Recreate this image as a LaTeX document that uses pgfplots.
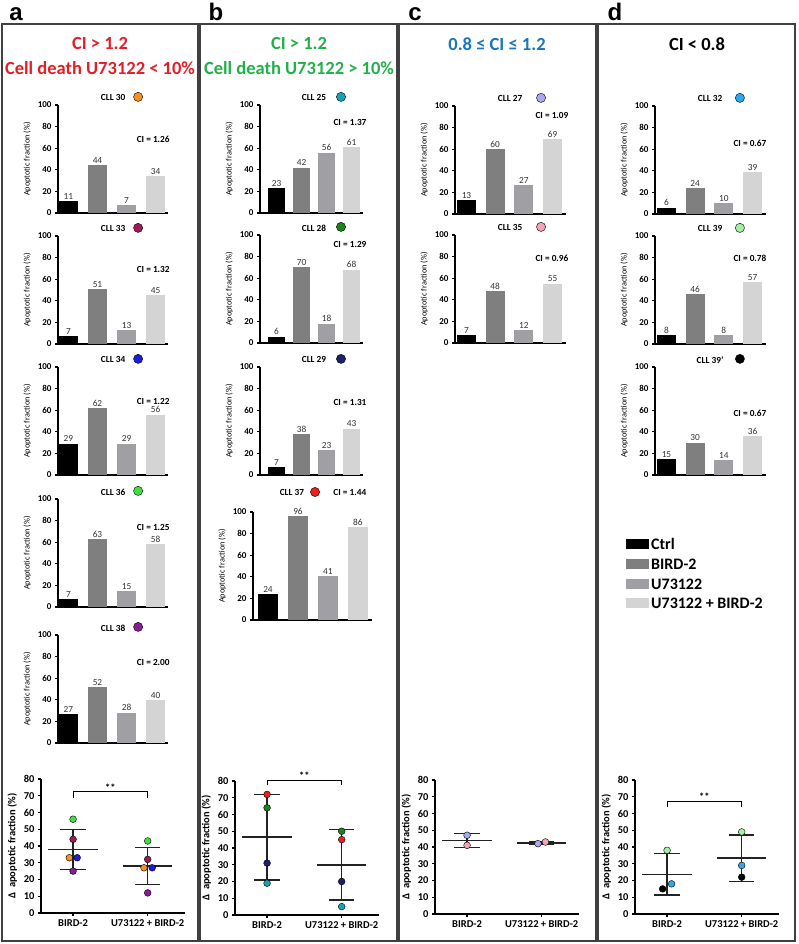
\documentclass[border=0pt]{standalone}
\usepackage{pgfplots}
\pgfplotsset{compat=1.18}
\usepackage{fontspec}
\setmainfont{Carlito}
\newfontfamily\letterfont{Liberation Sans}

\definecolor{cCtrl}{HTML}{000000}
\definecolor{cBird}{HTML}{7F7F7F}
\definecolor{cU}{HTML}{A0A0A4}
\definecolor{cUB}{HTML}{D4D4D4}
\definecolor{tRed}{HTML}{E41E26}
\definecolor{tGreen}{HTML}{22B04B}
\definecolor{tBlue}{HTML}{1C75BC}
\definecolor{frame}{HTML}{404040}
\definecolor{vlab}{HTML}{333333}
\definecolor{sdc}{HTML}{222222}
% one colour per patient
\definecolor{p30}{HTML}{F7901E}
\definecolor{p33}{HTML}{A0175A}
\definecolor{p34}{HTML}{1A1AE0}
\definecolor{p36}{HTML}{3DE03D}
\definecolor{p38}{HTML}{8A1A9C}
\definecolor{p25}{HTML}{1AA0B8}
\definecolor{p28}{HTML}{1A841A}
\definecolor{p29}{HTML}{1A1F6E}
\definecolor{p37}{HTML}{EE1C1C}
\definecolor{p27}{HTML}{A8A8F5}
\definecolor{p35}{HTML}{F5A3B5}
\definecolor{p32}{HTML}{2AA8EE}
\definecolor{p39}{HTML}{A5EFA5}
\definecolor{p39b}{HTML}{000000}

\newcommand\fTick{\fontsize{9}{10}\selectfont\bfseries}
\newcommand\fYlab{\fontsize{8.3}{9}\selectfont}
\newcommand\fVal{\fontsize{9.3}{10}\selectfont}
\newcommand\fCLL{\fontsize{9.3}{10}\selectfont\bfseries}
\newcommand\fS{\fontsize{10.5}{12}\selectfont\bfseries}

\pgfplotsset{
  base/.style={scale only axis, anchor=south west, axis lines*=left, clip=false,
    axis line style={line width=1.2pt, black},
    tick style={line width=1.2pt, black},
    tick align=outside, major tick length=3pt,
    /pgf/number format/assume math mode=true},
  bchart/.style={base, height=108pt, ymin=0, ymax=100, ytick={0,20,...,100}, xtick=\empty,
    tick label style={font=\fTick},
    ylabel={Apoptotic fraction (\%)}, ylabel style={font=\fYlab}},
  pa/.style={bchart, width=110pt, xmin=-0.36, xmax=3.43, bar width=19pt},
  pb/.style={bchart, width=103pt, xmin=-0.66, xmax=3.46, bar width=17pt},
  pcd/.style={bchart, width=111pt, xmin=-0.4, xmax=3.47, bar width=19pt},
  barst/.style={ybar, bar shift=0pt, draw=none, nodes near coords,
    every node near coord/.append style={font=\fVal, text=vlab, inner sep=1.5pt}},
  schart/.style={base, width=144pt, height=134pt, xmin=-0.43, xmax=1.5,
    ymin=0, ymax=80, ytick={0,10,...,80}, xtick={0,1},
    xticklabels={{BIRD-2},{U73122 + BIRD-2}},
    tick label style={font=\fS},
    ylabel={Δ\ \ apoptotic fraction (\%)}, ylabel style={font=\fS}},
  sdline/.style={line width=1.5pt, sdc},
}

\newcommand\fourbars[4]{%
  \addplot[barst, fill=cCtrl] coordinates {(0,#1)};
  \addplot[barst, fill=cBird] coordinates {(1,#2)};
  \addplot[barst, fill=cU] coordinates {(2,#3)};
  \addplot[barst, fill=cUB] coordinates {(3,#4)};}
\newcommand\pdot[3]{\addplot[only marks, mark=*, mark size=4.6pt, mark options={draw=none, fill=#3}] coordinates {(#1,#2)};}
\newcommand\sdot[3]{\addplot[only marks, mark=*, mark size=3.4pt, mark options={draw=none, fill=#3}] coordinates {(#1,#2)};}
% mean line, caps and bar: xl xr capl capr xc mean lo hi
\newcommand\msd[8]{%
  \addplot[sdline] coordinates {(#1,#6) (#2,#6)};
  \addplot[sdline] coordinates {(#3,#7) (#4,#7)};
  \addplot[sdline] coordinates {(#3,#8) (#4,#8)};
  \addplot[sdline] coordinates {(#5,#7) (#5,#8)};}

\begin{document}
\begin{tikzpicture}[x=1pt, y=1pt]
\path[use as bounding box] (0,0) rectangle (798,944);

% panel frames
\draw[frame, line width=1.3pt] (2,3) rectangle (198,920);
\draw[frame, line width=1.3pt] (200,3) rectangle (397,920);
\draw[frame, line width=1.3pt] (399,3) rectangle (596,920);
\draw[frame, line width=1.3pt] (598,3) rectangle (795,920);

% panel letters
\foreach \lx/\lt in {16/a, 216/b, 415/c, 615/d}
  \node[font=\letterfont\fontsize{24}{25}\selectfont\bfseries, anchor=base] at (\lx,923) {\lt};

% titles
\node[font=\fontsize{18.5}{20}\selectfont\bfseries, text=tRed] at (100,900) {CI > 1.2};
\node[font=\fontsize{18.5}{20}\selectfont\bfseries, text=tRed] at (100,876) {Cell death U73122 < 10\%};
\node[font=\fontsize{18.5}{20}\selectfont\bfseries, text=tGreen] at (299,900) {CI > 1.2};
\node[font=\fontsize{18.5}{20}\selectfont\bfseries, text=tGreen] at (299,876) {Cell death U73122 > 10\%};
\node[font=\fontsize{18.5}{20}\selectfont\bfseries, text=tBlue] at (497,900) {0.8 ≤ CI ≤ 1.2};
\node[font=\fontsize{18.5}{20}\selectfont\bfseries] at (697,900) {CI < 0.8};

% ---------------- panel a ----------------
\begin{axis}[pa, at={(58pt,731pt)}]
\fourbars{11}{44}{7}{34}
\pdot{2.40}{107.5}{p30}
\node[font=\fCLL] at (axis cs:1.54,106.5) {CLL 30};
\node[font=\fCLL] at (axis cs:2.92,68.5) {CI = 1.26};
\end{axis}
\begin{axis}[pa, at={(58pt,600pt)}]
\fourbars{7}{51}{13}{45}
\pdot{2.40}{107.5}{p33}
\node[font=\fCLL] at (axis cs:1.54,106.5) {CLL 33};
\node[font=\fCLL] at (axis cs:2.92,69) {CI = 1.32};
\end{axis}
\begin{axis}[pa, at={(58pt,469pt)}]
\fourbars{29}{62}{29}{56}
\pdot{2.40}{107.5}{p34}
\node[font=\fCLL] at (axis cs:1.54,106.5) {CLL 34};
\node[font=\fCLL] at (axis cs:2.92,68.5) {CI = 1.22};
\end{axis}
\begin{axis}[pa, at={(58pt,337pt)}]
\fourbars{7}{63}{15}{58}
\pdot{2.40}{107.5}{p36}
\node[font=\fCLL] at (axis cs:1.54,106.5) {CLL 36};
\node[font=\fCLL] at (axis cs:2.92,73.5) {CI = 1.25};
\end{axis}
\begin{axis}[pa, at={(58pt,201pt)}]
\fourbars{27}{52}{28}{40}
\pdot{2.40}{107.5}{p38}
\node[font=\fCLL] at (axis cs:1.54,106.5) {CLL 38};
\node[font=\fCLL] at (axis cs:2.92,75) {CI = 2.00};
\end{axis}

% ---------------- panel b ----------------
\begin{axis}[pb, at={(260pt,731pt)}]
\fourbars{23}{42}{56}{61}
\pdot{2.58}{107.5}{p25}
\node[font=\fCLL] at (axis cs:1.5,106.5) {CLL 25};
\node[font=\fCLL] at (axis cs:2.94,84) {CI = 1.37};
\end{axis}
\begin{axis}[pb, at={(260pt,601pt)}]
\fourbars{6}{70}{18}{68}
\pdot{2.58}{107.5}{p28}
\node[font=\fCLL] at (axis cs:1.5,106.5) {CLL 28};
\node[font=\fCLL] at (axis cs:2.94,91) {CI = 1.29};
\end{axis}
\begin{axis}[pb, at={(260pt,469pt)}]
\fourbars{7}{38}{23}{43}
\pdot{2.58}{107.5}{p29}
\node[font=\fCLL] at (axis cs:1.5,106.5) {CLL 29};
\node[font=\fCLL] at (axis cs:2.94,67.5) {CI = 1.31};
\end{axis}
\begin{axis}[bchart, width=119pt, xmin=-0.5, xmax=3.47, bar width=20pt, at={(253pt,324pt)}]
\fourbars{24}{96}{41}{86}
\pdot{1.57}{118.5}{p37}
\node[font=\fCLL] at (axis cs:0.8,118) {CLL 37};
\node[font=\fCLL] at (axis cs:2.73,118) {CI = 1.44};
\end{axis}

% ---------------- panel c ----------------
\begin{axis}[pcd, at={(455pt,730pt)}]
\fourbars{13}{60}{27}{69}
\pdot{2.6}{107.5}{p27}
\node[font=\fCLL] at (axis cs:1.52,106.5) {CLL 27};
\node[font=\fCLL] at (axis cs:2.98,91) {CI = 1.09};
\end{axis}
\begin{axis}[pcd, at={(455pt,601pt)}]
\fourbars{7}{48}{12}{55}
\pdot{2.6}{107.5}{p35}
\node[font=\fCLL] at (axis cs:1.52,106.5) {CLL 35};
\node[font=\fCLL] at (axis cs:2.98,78) {CI = 0.96};
\end{axis}

% ---------------- panel d ----------------
\begin{axis}[pcd, at={(655pt,730pt)}]
\fourbars{6}{24}{10}{39}
\pdot{2.56}{107.5}{p32}
\node[font=\fCLL] at (axis cs:1.52,106.5) {CLL 32};
\node[font=\fCLL] at (axis cs:2.91,65) {CI = 0.67};
\end{axis}
\begin{axis}[pcd, at={(655pt,600pt)}]
\fourbars{8}{46}{8}{57}
\pdot{2.56}{107.5}{p39}
\node[font=\fCLL] at (axis cs:1.52,106.5) {CLL 39};
\node[font=\fCLL] at (axis cs:2.91,79) {CI = 0.78};
\end{axis}
\begin{axis}[pcd, at={(655pt,469pt)}]
\fourbars{15}{30}{14}{36}
\pdot{2.56}{107.5}{p39b}
\node[font=\fCLL] at (axis cs:1.52,106.5) {CLL 39'};
\node[font=\fCLL] at (axis cs:2.91,57) {CI = 0.67};
\end{axis}

% legend
\foreach \ly/\lc/\lt in {400/cCtrl/Ctrl, 380/cBird/BIRD-2, 360/cU/U73122, 341/cUB/U73122 + BIRD-2}{
  \fill[\lc] (626,\ly-5) rectangle (649,\ly+5);
  \node[font=\fontsize{16}{17}\selectfont\bfseries, anchor=west, inner sep=1pt] at (650,\ly) {\lt};
}

% ---------------- scatter plots ----------------
\begin{axis}[schart, at={(41pt,31pt)}]
\msd{-0.33}{0.33}{-0.17}{0.17}{0}{38}{26}{50}
\msd{0.67}{1.33}{0.83}{1.17}{1}{28}{17}{39}
\addplot[line width=0.9pt, black] coordinates {(0,68.7) (0,72.4) (1,72.4) (1,68.7)};
\node[font=\fS, anchor=base] at (axis cs:0.5,72.6) {**};
\sdot{0}{56}{p36}
\sdot{0}{44}{p33}
\sdot{-0.05}{33}{p30}
\sdot{0.055}{33}{p34}
\sdot{0}{25}{p38}
\sdot{1}{43}{p36}
\sdot{1}{32}{p33}
\sdot{0.95}{27}{p30}
\sdot{1.06}{27}{p34}
\sdot{1}{12}{p38}
\end{axis}

\begin{axis}[schart, at={(235pt,29pt)}]
\msd{-0.33}{0.33}{-0.17}{0.17}{0}{46.5}{21}{72}
\msd{0.67}{1.33}{0.83}{1.17}{1}{30}{9}{51}
\addplot[line width=0.9pt, black] coordinates {(0,77.5) (0,80.5) (1,80.5) (1,77.5)};
\node[font=\fS, anchor=base] at (axis cs:0.5,80.8) {**};
\sdot{0}{72}{p37}
\sdot{0}{64}{p28}
\sdot{0}{31}{p29}
\sdot{0}{19}{p25}
\sdot{1}{50}{p28}
\sdot{1}{45}{p37}
\sdot{1}{20}{p29}
\sdot{1}{5}{p25}
\end{axis}

\begin{axis}[schart, at={(435pt,30pt)}]
\msd{-0.33}{0.33}{-0.17}{0.17}{0}{44}{39.8}{48.2}
\msd{0.67}{1.33}{0.83}{1.17}{1}{42.5}{41.8}{43.2}
\sdot{0}{47}{p27}
\sdot{0}{41}{p35}
\sdot{0.95}{42}{p27}
\sdot{1.05}{43}{p35}
\end{axis}

\begin{axis}[schart, at={(635pt,30pt)}]
\msd{-0.33}{0.33}{-0.17}{0.17}{0}{23.7}{11.2}{36.2}
\msd{0.67}{1.33}{0.83}{1.17}{1}{33.3}{19.3}{47.3}
\addplot[line width=0.9pt, black] coordinates {(0,63.7) (0,67.4) (1,67.4) (1,63.7)};
\node[font=\fS, anchor=base] at (axis cs:0.5,67.8) {**};
\sdot{0}{38}{p39}
\sdot{0.06}{18}{p32}
\sdot{-0.06}{15}{p39b}
\sdot{1}{49}{p39}
\sdot{1}{29}{p32}
\sdot{1}{22}{p39b}
\end{axis}
\end{tikzpicture}
\end{document}
